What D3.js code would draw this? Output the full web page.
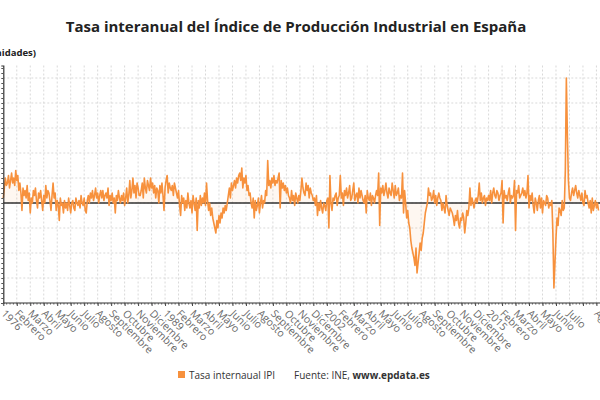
<!DOCTYPE html>
<html>
<head>
<meta charset="utf-8">
<script src="https://cdn.jsdelivr.net/npm/d3@7"></script>
<style>
  body { margin: 0; background: #fff; }
  svg { display: block; font-family: "Open Sans", "Noto Sans", sans-serif; }
</style>
</head>
<body>
<svg id="canvas" width="600" height="400"></svg>
<script>
// Tasa interanual IPI, meses desde enero 1976
let y1976 = [2, 6, 10, 7, 8, 11, 6, 9, 12, 8, 10, 7]
let y1977 = [13, 9, 11, 5, 8, 4, -3, 6, 3, 5, 2, 7]
let y1978 = [1, 4, -4, 2, 0, 5, 3, 6, 1, -2, 4, 2]
let y1979 = [5, 1, -3, 3, 0, 7, 2, 5, 4, 1, -3, 3]
let y1980 = [8, 2, 4, -3, 1, -1, -7, 2, -1, 0, -4, 1]
let y1981 = [-2, 0, -3, 2, -1, -4, 0, 1, -2, -3, 2, 0]
let y1982 = [-1, 1, -2, 3, 0, -1, 2, -3, -4, 1, 3, 0]
let y1983 = [4, 2, 5, 1, 3, 6, 2, 4, 0, 3, 5, 2]
let y1984 = [5, 1, 3, 4, 2, 6, -1, 3, 1, 4, 0, 2]
let y1985 = [-4, 3, 1, 5, 2, 0, 3, 1, 4, -1, 2, 6]
let y1986 = [0, 3, 9, 2, 5, 10, 4, 7, 2, 8, 6, 3]
let y1987 = [3, 5, 8, 2, 10, 6, 4, 9, 7, 5, 10, 6]
let y1988 = [8, 4, 7, 2, 6, 5, 0, 7, 4, 8, 3, -3]
let y1989 = [6, 9, 11, 4, 8, 6, 5, 7, 3, 8, 6, 4]
let y1990 = [2, 5, -1, -5, 3, 0, 2, -3, 1, -2, 4, 0]
let y1991 = [-2, 1, -4, 3, 0, -3, 2, -11, 1, -2, 3, -1]
let y1992 = [2, 0, 4, -1, 8, 1, -3, 0, -5, -2, -6, -8]
let y1993 = [-10, -12, -7, -10, -5, -8, -4, -6, -2, -4, -1, -3]
let y1994 = [0, 3, 6, 2, 8, 5, 7, 9, 6, 10, 8, 11]
let y1995 = [12, 9, 14, 6, 10, 8, 11, 5, 7, 3, 4, 0]
let y1996 = [-2, 2, -6, 1, -3, -1, 2, -4, 0, 3, -2, 1]
let y1997 = [0, 5, 3, 17, 7, 9, 6, 10, 8, 11, 7, 9]
let y1998 = [8, 10, 12, -2, 9, 6, 8, 5, 7, 4, 6, 3]
let y1999 = [2, 0, 5, 1, 3, -1, 4, 2, 0, 3, 1, 5]
let y2000 = [10, 6, 4, 3, 8, 5, 7, 2, 6, 4, 3, 1]
let y2001 = [2, -1, 3, -5, 0, -3, 1, -2, -4, 0, -1, -3]
let y2002 = [1, 2, -10, 11, 0, -3, 2, 1, 3, 4, -1, 2]
let y2003 = [3, 11, 2, 4, -1, 5, 3, 6, 2, 4, 7, 1]
let y2004 = [2, 5, 8, 1, 3, 4, 0, 6, 2, 5, 3, 1]
let y2005 = [0, 3, -4, 5, 2, 1, 4, -1, 3, 2, 0, 3]
let y2006 = [5, 3, 12, -9, 6, 4, 7, 3, 5, 8, 4, 2]
let y2007 = [6, 4, 3, 8, 5, 2, 7, 3, 4, 6, 1, 3]
let y2008 = [2, 12, -4, 5, 0, -6, -3, -8, -10, -15, -18, -20]
let y2009 = [-22, -25, -18, -28, -24, -20, -16, -19, -14, -12, -8, -4]
let y2010 = [-2, 0, 6, 3, 4, 1, 2, 5, 0, 3, -1, 2]
let y2011 = [4, 2, 1, -3, 0, -2, -4, 3, -1, -3, -5, -2]
let y2012 = [-3, -4, -6, -9, -5, -7, -3, -8, -10, -6, -7, -4]
let y2013 = [-6, -12, -8, -3, -5, -2, 6, -1, 2, 0, -2, 1]
let y2014 = [2, 0, 3, 8, 1, 4, 0, 2, 3, -1, 2, 1]
let y2015 = [3, 1, 5, 0, 4, 6, 3, 2, 5, 4, 1, 3]
let y2016 = [4, 9, -8, 5, 2, 3, 1, 4, 6, 0, 3, 2]
let y2017 = [3, 9, -11, 5, 4, 7, 2, 3, 4, 6, 3, 5]
let y2018 = [2, 4, 11, -2, 3, 1, 4, -1, -4, 2, 0, -3]
let y2019 = [1, 3, -2, 2, -4, 1, 0, -1, 3, 2, -2, 0]
let y2020 = [-1, 1, -12, -34, -24, -14, -6, -9, -2, -3, -5, 1]
let y2021 = [-3, -2, 13, 50, 27, 9, 2, 1, 4, 6, 3, 5]
let y2022 = [7, 4, 2, 5, 3, 1, 4, 0, -1, 5, 2, 3]
let y2023 = [0, -2, 1, -4, 2, -3, -1, 1, -2, 0, -3]

let tasa = [].concat(y1976, y1977, y1978, y1979, y1980, y1981, y1982, y1983, y1984, y1985,
    y1986, y1987, y1988, y1989, y1990, y1991, y1992, y1993, y1994, y1995,
    y1996, y1997, y1998, y1999, y2000, y2001, y2002, y2003, y2004, y2005,
    y2006, y2007, y2008, y2009, y2010, y2011, y2012, y2013, y2014, y2015,
    y2016, y2017, y2018, y2019, y2020, y2021, y2022, y2023)

// Etiquetas del eje X (una cada 13 meses)
let mesesEje = ["Febrero", "Marzo", "Abril", "Mayo", "Junio", "Julio", "Agosto",
    "Septiembre", "Octubre", "Noviembre", "Diciembre"]
let tickLabels = [].concat(["1976"], mesesEje, ["1989"], mesesEje, ["2002"], mesesEje,
    ["2015", "Febrero", "Marzo", "Abril", "Mayo", "Junio", "Julio", "", "Agosto"])
let yTicks = [-40, -30, -20, -10, 0, 10, 20, 30, 40, 50]

let canvas = d3.select("#canvas")
let orange = "#f7913d"

let x = d3.scaleLinear().domain([0, tasa.length - 1]).range([3.3, 598.5])
let y = d3.scaleLinear().domain([-40, 55]).range([303, 65.5])
let tickIdx = tickLabels.map((d, i) => i * 13)

// Title
canvas.append("text")
    .attr("x", 296).attr("y", 32)
    .attr("text-anchor", "middle")
    .style("font-size", "15px").style("font-weight", "bold").style("fill", "#222")
    .text("Tasa interanual del Índice de Producción Industrial en España")

// Y axis title (cortado por la izquierda, como en el original)
canvas.append("text")
    .attr("x", 36).attr("y", 56)
    .attr("text-anchor", "end")
    .style("font-size", "9.5px").style("font-weight", "bold").style("fill", "#222")
    .text("(Unidades)")

// Grid
let grid = canvas.append("g").attr("stroke", "#d9d9d9").attr("stroke-dasharray", "2,2")
grid.selectAll("line.h")
    .data(yTicks.filter(d => d > -40))
    .join("line")
    .attr("x1", x(0)).attr("x2", 600)
    .attr("y1", d => y(d)).attr("y2", d => y(d))
grid.selectAll("line.v")
    .data(tickIdx.slice(1))
    .join("line")
    .attr("class", "v")
    .attr("x1", d => x(d)).attr("x2", d => x(d))
    .attr("y1", y(55)).attr("y2", y(-40))

// Area and line
let area = d3.area()
    .x((d, i) => x(i))
    .y0(y(0))
    .y1(d => y(d))
canvas.append("path")
    .datum(tasa)
    .attr("d", area)
    .attr("fill", orange).attr("opacity", 0.07)

// Zero line
canvas.append("line")
    .attr("x1", x(0)).attr("x2", 600)
    .attr("y1", y(0)).attr("y2", y(0))
    .attr("stroke", "#333").attr("stroke-width", 1.5)

let line = d3.line()
    .x((d, i) => x(i))
    .y(d => y(d))
canvas.append("path")
    .datum(tasa)
    .attr("d", line)
    .attr("fill", "none")
    .attr("stroke", orange)
    .attr("stroke-width", 1.6)
    .attr("stroke-linejoin", "round")

// Y axis with minor ticks (the tick labels fall outside the crop)
let yAxis = d3.axisLeft(y)
    .tickValues(d3.range(-40, 55, 2))
    .tickSize(2)
    .tickFormat("")
let yG = canvas.append("g")
    .attr("transform", "translate(" + x(0) + ",0)")
    .call(yAxis)
yG.select(".domain").attr("stroke", "#333").attr("stroke-width", 1.2)
yG.selectAll(".tick line").attr("stroke", "#555")

// X axis
let xAxis = d3.axisBottom(x)
    .tickValues(tickIdx)
    .tickSize(3)
    .tickFormat((d, i) => tickLabels[i])
let xG = canvas.append("g")
    .attr("transform", "translate(0," + y(-40) + ")")
    .call(xAxis)
xG.select(".domain").attr("d", "M" + x(0) + ",0H600").attr("stroke", "#333").attr("stroke-width", 1.2)
xG.selectAll(".tick line").attr("stroke", "#444")
xG.selectAll(".tick text")
    .attr("text-anchor", "start")
    .attr("transform", "translate(3,5) rotate(45)")
    .attr("x", 0).attr("y", 5)
    .attr("dy", "0.35em")
    .style("font-size", "10.5px")
    .style("fill", "#6a6a6a")
    .style("font-family", "'Open Sans', sans-serif")

// minor ticks on x axis
canvas.append("g")
    .selectAll("line")
    .data(d3.range(0, tasa.length, 13 / 4))
    .join("line")
    .attr("x1", d => x(d)).attr("x2", d => x(d))
    .attr("y1", y(-40)).attr("y2", y(-40) + 1.5)
    .attr("stroke", "#555")

// Legend
canvas.append("rect")
    .attr("x", 178).attr("y", 371)
    .attr("width", 7).attr("height", 7)
    .attr("fill", orange)
canvas.append("text")
    .attr("x", 189).attr("y", 378.5)
    .style("font-size", "10px").style("fill", "#333")
    .text("Tasa internaual IPI")
let fuente = canvas.append("text")
    .attr("x", 294).attr("y", 378.5)
    .style("font-size", "10px").style("fill", "#333")
fuente.append("tspan").text("Fuente: INE, ")
fuente.append("tspan").style("font-weight", "bold").text("www.epdata.es")
</script>
</body>
</html>
